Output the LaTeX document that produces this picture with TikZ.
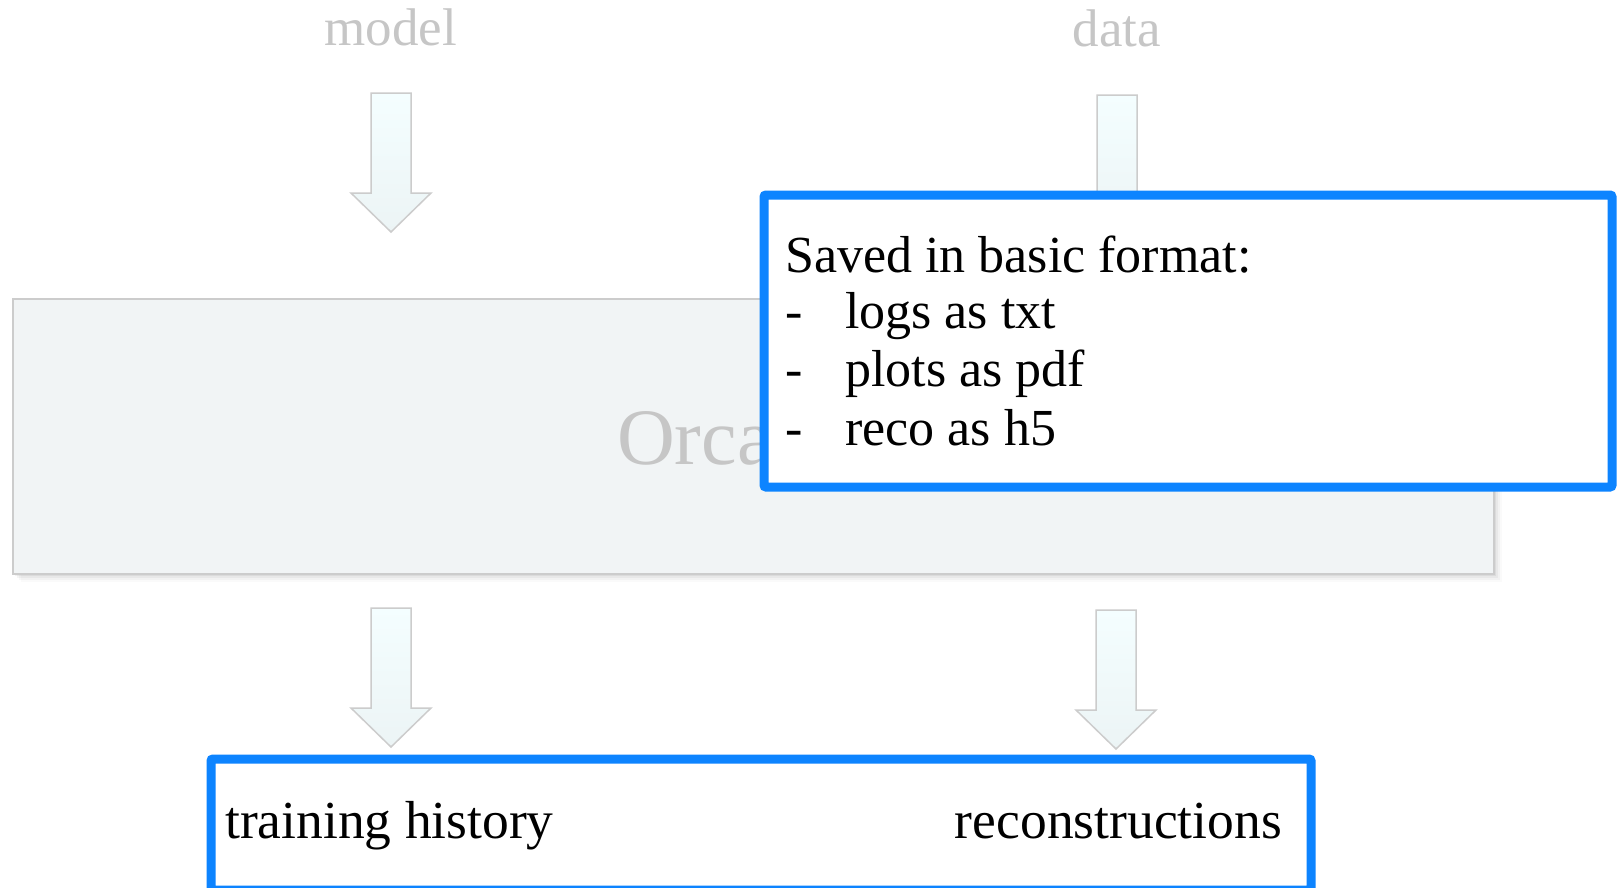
\documentclass[tikz,border=0pt]{standalone}
\usepackage{fontspec}
\setmainfont{Liberation Serif}
\definecolor{blueb}{HTML}{0D84FF}
\definecolor{graytxt}{HTML}{C6C6C6}
\definecolor{boxfill}{HTML}{F1F4F5}
\definecolor{boxline}{HTML}{CCCCCC}
\definecolor{arrtop}{HTML}{F4FEFF}
\definecolor{arrbot}{HTML}{ECF4F5}
\tikzset{
  orcabox/.style={draw=boxline, line width=1.5pt, fill=boxfill, inner sep=0pt, outer sep=0pt, anchor=north west},
  bluebox/.style={draw=blueb, line width=9pt, fill=white, rounded corners=2pt, inner sep=0pt, outer sep=0pt, anchor=north west},
  graylabel/.style={text=graytxt, inner sep=0pt, anchor=base, font=\fontsize{53}{60}\selectfont},
  bodytext/.style={text=black, inner sep=0pt, anchor=base west, font=\fontsize{52}{60}\selectfont},
  arrowbody/.style={draw=boxline, line width=1.5pt, top color=arrtop, bottom color=arrbot, line join=miter},
  bigarrow/.pic={
    \path[arrowbody] (-20,0) -- (20,0) -- (20,100) -- (40,100) -- (0,139) -- (-40,100) -- (-20,100) -- cycle;
  }
}
\begin{document}
\begin{tikzpicture}[x=1pt,y=-1pt]
\useasboundingbox (0,0) rectangle (1618,887);
\fill[white] (0,0) rectangle (1618,887);

% labels on top
\node[graylabel] (model) at (390.5,45) {model};
\node[graylabel] (data) at (1117,46) {data};

% soft shadow of the Orca box
\foreach \d/\o in {2/0.05,4/0.04,6/0.03,8/0.02}{
  \fill[black, opacity=\o] (13+\d,299+\d) rectangle (1494+\d,574+\d);
}
% Orca box
\node[orcabox, minimum width=1481pt, minimum height=275pt] (orca) at (13,299) {};
\node[text=graytxt, inner sep=0pt, anchor=base west, font=\fontsize{80}{90}\selectfont] (orcatxt) at (617,464) {Orca};

% arrows
\pic (inmodel) at (391,93) {bigarrow};
\pic (indata) at (1117,95) {bigarrow};
\pic (outhist) at (391,608) {bigarrow};
\pic (outreco) at (1116,610) {bigarrow};

% format box
\node[bluebox, minimum width=848pt, minimum height=292pt] (fmt) at (764,195) {};
\node[bodytext] (l0) at (785,272) {Saved in basic format:};
\node[bodytext] (d1) at (785,328) {-};
\node[bodytext] (l1) at (845,328) {logs as txt};
\node[bodytext] (d2) at (785,386.5) {-};
\node[bodytext] (l2) at (845,386.5) {plots as pdf};
\node[bodytext] (d3) at (785,445) {-};
\node[bodytext] (l3) at (845,445) {reco as h5};

% output box
\node[bluebox, minimum width=1100pt, minimum height=131pt] (out) at (211,759) {};
\node[bodytext, font=\fontsize{53.5}{60}\selectfont] (hist) at (225,838) {training history};
\node[bodytext, anchor=base east, font=\fontsize{53.5}{60}\selectfont] (reco) at (1282,838) {reconstructions};
\end{tikzpicture}
\end{document}
